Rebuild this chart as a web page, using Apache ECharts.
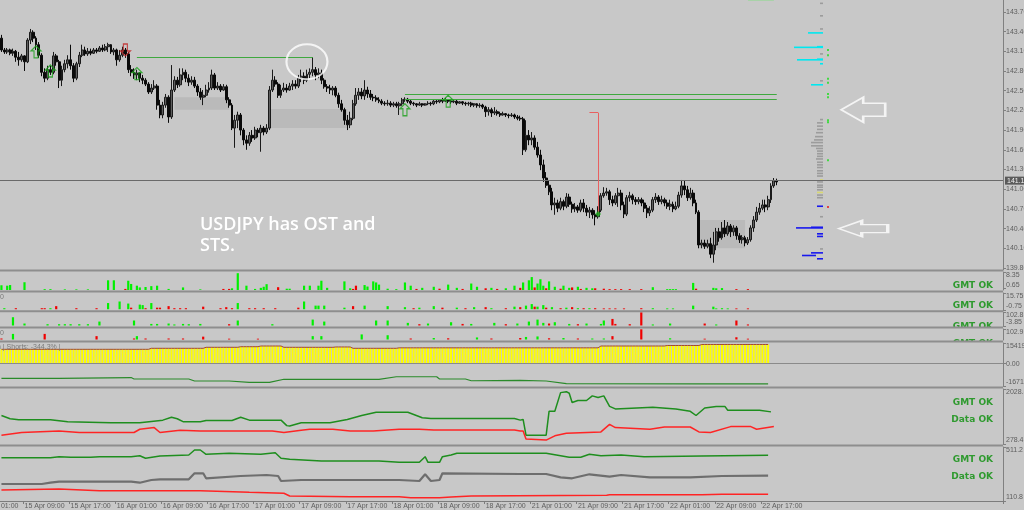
<!DOCTYPE html>
<html><head><meta charset="utf-8">
<script src="https://cdn.jsdelivr.net/npm/echarts@6/dist/echarts.min.js"></script>
<style>html,body{margin:0;padding:0;background:#c8c8c8;}#c{width:1024px;height:510px;}</style>
</head><body><div id="c"></div>
<script>
// ---------------- DATA ----------------
const TIME_LABELS = ['15 Apr 01:00','15 Apr 09:00','15 Apr 17:00','16 Apr 01:00','16 Apr 09:00','16 Apr 17:00','17 Apr 01:00','17 Apr 09:00','17 Apr 17:00','18 Apr 01:00','18 Apr 09:00','18 Apr 17:00','21 Apr 01:00','21 Apr 09:00','21 Apr 17:00','22 Apr 01:00','22 Apr 09:00','22 Apr 17:00'];
const PRICE_TICKS = [139.8,140.1,140.4,140.7,141.0,141.3,141.6,141.9,142.2,142.5,142.8,143.1,143.4,143.7];
// [open, close, low, high]
const CANDLES = [
[143.30,143.12,143.09,143.35],[143.12,143.09,143.06,143.15],[143.09,143.12,143.06,143.15],[143.12,143.07,143.04,143.14],[143.07,143.10,143.03,143.14],
[143.10,143.01,142.94,143.12],[143.01,142.97,142.88,143.09],[142.97,143.03,142.94,143.06],[143.03,142.94,142.80,143.04],[142.94,143.27,142.92,143.30],
[143.27,143.39,143.21,143.44],[143.39,143.30,143.24,143.42],[143.30,143.20,143.12,143.33],[143.20,143.04,143.00,143.24],[143.04,142.78,142.72,143.07],
[142.78,142.69,142.63,142.84],[142.69,142.82,142.66,142.88],[142.82,142.78,142.74,142.88],[142.78,143.03,142.75,143.09],[143.03,142.94,142.88,143.06],
[142.94,142.66,142.54,142.97],[142.66,142.82,142.57,142.88],[142.82,142.91,142.78,142.97],[142.91,142.97,142.84,143.04],[142.97,142.88,142.82,143.20],
[142.88,142.69,142.63,142.92],[142.69,142.91,142.66,142.94],[142.91,143.04,142.86,143.09],[143.04,143.12,143.01,143.20],[143.12,143.06,143.03,143.17],
[143.06,143.10,143.03,143.15],[143.10,143.07,143.04,143.14],[143.07,143.12,143.06,143.15],[143.12,143.10,143.07,143.15],[143.10,143.15,143.09,143.18],
[143.15,143.12,143.09,143.20],[143.12,143.17,143.10,143.21],[143.17,143.20,143.09,143.23],[143.20,143.09,143.06,143.21],[143.09,143.12,143.04,143.15],
[143.12,142.97,142.88,143.14],[142.97,143.04,142.94,143.12],[143.04,143.12,143.01,143.17],[143.12,143.06,143.00,143.15],[143.06,142.82,142.77,143.09],
[142.82,142.78,142.72,142.89],[142.78,142.74,142.68,142.84],[142.74,142.77,142.66,142.82],[142.77,142.69,142.63,142.78],[142.69,142.66,142.60,142.74],
[142.66,142.60,142.57,142.69],[142.60,142.48,142.45,142.63],[142.48,142.54,142.45,142.60],[142.54,142.57,142.51,142.66],[142.57,142.28,142.21,142.60],
[142.28,142.13,142.08,142.36],[142.13,142.28,142.08,142.33],[142.28,142.40,142.24,142.45],[142.40,142.10,142.01,142.43],[142.10,142.51,142.07,142.89],
[142.51,142.66,142.48,142.72],[142.66,142.59,142.54,142.71],[142.59,142.74,142.56,142.84],[142.74,142.78,142.66,142.84],[142.78,142.69,142.63,142.82],
[142.69,142.63,142.57,142.75],[142.63,142.66,142.59,142.72],[142.66,142.57,142.54,142.71],[142.57,142.48,142.42,142.60],[142.48,142.40,142.36,142.54],
[142.40,142.43,142.28,142.51],[142.43,142.51,142.40,142.59],[142.51,142.54,142.47,142.63],[142.54,142.74,142.51,142.82],[142.74,142.54,142.51,142.77],
[142.54,142.57,142.51,142.63],[142.57,142.51,142.48,142.60],[142.51,142.56,142.50,142.60],[142.56,142.36,142.31,142.59],[142.36,142.28,142.24,142.40],
[142.28,141.93,141.90,142.31],[141.93,142.05,141.63,142.13],[142.05,142.13,141.93,142.18],[142.13,141.90,141.82,142.16],[141.90,141.75,141.67,141.93],
[141.75,141.70,141.60,141.82],[141.70,141.82,141.66,141.87],[141.82,141.78,141.72,141.90],[141.78,141.90,141.75,141.95],[141.90,141.86,141.79,141.93],
[141.86,141.93,141.57,141.98],[141.93,141.87,141.82,141.96],[141.87,141.93,141.84,141.99],[141.93,142.51,141.90,142.57],[142.51,142.66,142.48,142.82],
[142.66,142.60,142.56,142.72],[142.60,142.43,142.39,142.63],[142.43,142.51,142.39,142.59],[142.51,142.54,142.48,142.62],[142.54,142.51,142.47,142.60],
[142.51,142.57,142.50,142.62],[142.57,142.60,142.51,142.66],[142.60,142.57,142.53,142.66],[142.57,142.69,142.54,142.74],[142.69,142.72,142.63,142.82],
[142.72,142.66,142.60,142.78],[142.66,142.75,142.63,142.82],[142.75,142.78,142.69,142.84],[142.78,142.82,142.72,143.01],[142.82,142.74,142.66,142.86],
[142.74,142.77,142.69,142.84],[142.77,142.66,142.60,142.82],[142.66,142.56,142.53,142.69],[142.56,142.54,142.48,142.60],[142.54,142.51,142.45,142.59],
[142.51,142.54,142.43,142.57],[142.54,142.43,142.40,142.57],[142.43,142.30,142.24,142.47],[142.30,142.21,142.18,142.36],[142.21,142.05,141.98,142.24],
[142.05,141.98,141.90,142.13],[141.98,142.08,141.93,142.18],[142.08,142.30,142.05,142.36],[142.30,142.43,142.27,142.54],[142.43,142.48,142.36,142.54],
[142.48,142.42,142.37,142.54],[142.42,142.51,142.36,142.66],[142.51,142.45,142.39,142.56],[142.45,142.40,142.36,142.51],[142.40,142.39,142.34,142.45],
[142.39,142.36,142.33,142.43],[142.36,142.34,142.31,142.40],[142.34,142.31,142.28,142.37],[142.31,142.30,142.27,142.34],[142.30,142.31,142.27,142.36],
[142.31,142.28,142.25,142.34],[142.28,142.30,142.25,142.33],[142.30,142.27,142.24,142.33],[142.27,142.30,142.13,142.33],[142.30,142.36,142.27,142.39],
[142.36,142.37,142.33,142.40],[142.37,142.34,142.31,142.39],[142.34,142.31,142.28,142.36],[142.31,142.30,142.27,142.33],[142.30,142.28,142.25,142.31],
[142.28,142.30,142.27,142.33],[142.30,142.28,142.25,142.31],[142.28,142.30,142.27,142.31],[142.30,142.31,142.28,142.34],[142.31,142.30,142.27,142.33],
[142.30,142.34,142.28,142.36],[142.34,142.33,142.30,142.36],[142.33,142.36,142.31,142.37],[142.36,142.34,142.31,142.39],[142.34,142.36,142.33,142.39],
[142.36,142.34,142.31,142.37],[142.34,142.33,142.30,142.36],[142.33,142.34,142.31,142.36],[142.34,142.31,142.28,142.36],[142.31,142.33,142.30,142.34],
[142.33,142.31,142.28,142.34],[142.31,142.30,142.27,142.33],[142.30,142.31,142.27,142.33],[142.31,142.28,142.25,142.33],[142.28,142.30,142.25,142.31],
[142.30,142.27,142.24,142.31],[142.27,142.28,142.24,142.31],[142.28,142.25,142.22,142.30],[142.25,142.18,142.10,142.27],[142.18,142.21,142.12,142.25],
[142.21,142.16,142.10,142.24],[142.16,142.18,142.13,142.25],[142.18,142.15,142.12,142.21],[142.15,142.13,142.10,142.18],[142.13,142.15,142.12,142.18],
[142.15,142.13,142.10,142.16],[142.13,142.12,142.08,142.15],[142.12,142.13,142.10,142.16],[142.13,142.10,142.07,142.15],[142.10,142.08,142.05,142.13],
[142.08,142.07,142.04,142.12],[142.07,141.60,141.52,142.10],[141.60,141.82,141.57,142.05],[141.82,141.75,141.67,141.90],[141.75,141.78,141.67,141.87],
[141.78,141.64,141.60,141.82],[141.64,141.52,141.48,141.72],[141.52,141.37,141.29,141.60],[141.37,141.17,141.11,141.45],[141.17,141.06,141.02,141.26],
[141.06,140.96,140.91,141.14],[140.96,140.76,140.68,141.02],[140.76,140.79,140.61,140.87],[140.79,140.71,140.65,140.84],[140.71,140.81,140.68,140.87],
[140.81,140.74,140.68,140.84],[140.74,140.88,140.71,140.94],[140.88,140.77,140.73,140.93],[140.77,140.70,140.64,140.81],[140.70,140.73,140.65,140.79],
[140.73,140.68,140.64,140.76],[140.68,140.79,140.65,140.84],[140.79,140.71,140.65,140.85],[140.71,140.65,140.59,140.76],[140.65,140.68,140.56,140.73],
[140.68,140.61,140.55,140.71],[140.61,140.58,140.45,140.68],[140.58,140.68,140.55,140.74],[140.68,140.90,140.65,140.94],[140.90,140.94,140.87,141.03],
[140.94,140.96,140.90,141.02],[140.96,140.84,140.76,140.99],[140.84,140.79,140.74,140.90],[140.79,140.90,140.76,140.94],[140.90,140.94,140.73,141.02],
[140.94,140.76,140.68,140.99],[140.76,140.62,140.56,140.81],[140.62,140.87,140.59,140.91],[140.87,140.90,140.81,140.96],[140.90,140.84,140.77,140.93],
[140.84,140.81,140.76,140.88],[140.81,140.84,140.77,140.88],[140.84,140.79,140.74,140.87],[140.79,140.71,140.65,140.84],[140.71,140.64,140.56,140.76],
[140.64,140.68,140.59,140.74],[140.68,140.84,140.65,140.88],[140.84,140.88,140.79,140.94],[140.88,140.81,140.76,140.91],[140.81,140.84,140.77,140.90],
[140.84,140.79,140.74,140.87],[140.79,140.74,140.70,140.84],[140.74,140.77,140.68,140.84],[140.77,140.70,140.65,140.81],[140.70,140.74,140.68,140.81],
[140.74,140.91,140.71,140.96],[140.91,141.05,140.87,141.14],[141.05,140.99,140.91,141.13],[140.99,140.87,140.82,141.05],[140.87,140.94,140.84,141.02],
[140.94,140.79,140.74,140.99],[140.79,140.65,140.62,140.84],[140.65,140.15,140.10,140.68],[140.15,140.18,140.10,140.23],[140.18,140.13,140.09,140.23],
[140.13,140.17,140.10,140.23],[140.17,140.01,139.95,140.26],[140.01,140.15,139.88,140.35],[140.15,140.35,140.07,140.41],[140.35,140.26,140.20,140.41],
[140.26,140.41,140.23,140.50],[140.41,140.32,140.27,140.53],[140.32,140.44,140.29,140.50],[140.44,140.35,140.27,140.47],[140.35,140.41,140.29,140.45],
[140.41,140.29,140.23,140.44],[140.29,140.23,140.18,140.33],[140.23,140.26,140.17,140.30],[140.26,140.18,140.13,140.29],[140.18,140.23,140.15,140.27],
[140.23,140.41,140.20,140.45],[140.41,140.53,140.35,140.59],[140.53,140.65,140.50,140.73],[140.65,140.71,140.61,140.79],[140.71,140.76,140.68,140.84],
[140.76,140.73,140.65,140.84],[140.73,140.84,140.68,140.90],[140.84,141.05,140.79,141.09],[141.05,141.13,141.02,141.17],[141.13,141.11,141.06,141.16]
];
const CURRENT_PRICE = 141.13;
// [barIndex, value]
const SUB1_GREEN = [[0,2.2],[2,2.0],[3,2.3],[8,3.6],[15,0.4],[17,0.4],[22,0.3],[26,0.3],[30,0.3],[37,4.5],[39,4.5],[44,4.3],[45,2.8],[47,2.0],[48,1.2],[50,1.4],[52,1.8],[54,2.0],[58,0.5],[63,1.2],[69,0.3],[80,0.8],[82,7.8],[85,2.0],[88,0.5],[90,1.0],[91,1.5],[92,2.7],[99,0.6],[100,0.6],[105,2.0],[107,2.0],[110,2.0],[111,4.3],[113,1.0],[119,4.0],[121,0.8],[126,2.3],[127,1.6],[129,4.0],[130,3.5],[131,2.5],[134,0.6],[137,0.4],[140,3.5],[142,2.0],[146,1.0],[150,1.5],[155,2.5],[158,1.0],[163,3.0],[165,1.5],[170,1.0],[175,0.8],[178,2.0],[181,3.5],[183,4.5],[184,6.0],[186,3.0],[187,5.0],[188,2.0],[190,4.0],[192,1.5],[195,2.0],[197,1.0],[200,1.5],[203,1.0],[205,0.8],[226,1.3],[231,0.4],[232,0.4],[233,0.4],[234,0.4],[240,3.3],[247,1.0],[248,0.8],[250,0.9]];
const SUB1_RED = [[43,0.5],[77,0.5],[79,0.5],[96,1.3],[122,0.5],[123,2.0],[144,0.5],[152,0.6],[160,0.5],[168,0.8],[172,0.5],[180,1.0],[185,1.2],[189,0.8],[194,0.6],[198,1.2],[201,0.5],[206,0.8],[209,0.6],[211,0.4],[213,0.4],[215,0.4],[218,0.4],[222,0.4],[241,0.6],[255,0.4],[259,0.4]];
const SUB2_GREEN = [[1,1.0],[17,1.0],[37,6.0],[41,7.5],[44,5.5],[48,4.5],[49,4.0],[52,6.0],[82,6.0],[105,7.5],[109,3.5],[110,3.5],[112,3.5],[119,1.5],[126,3.5],[134,3.0],[140,2.0],[145,1.5],[150,3.0],[158,1.5],[164,2.0],[170,1.0],[178,2.5],[182,3.5],[184,5.0],[186,2.5],[188,4.0],[191,2.0],[196,1.5],[200,1.0],[204,1.0],[226,1.0],[231,0.8],[233,0.8],[240,3.5],[247,2.5],[248,0.8],[250,1.0],[252,0.8]];
const SUB2_RED = [[5,1.0],[14,1.0],[15,1.0],[19,3.0],[26,1.0],[33,1.0],[45,1.5],[50,1.0],[54,1.5],[55,1.5],[58,3.0],[60,1.0],[62,1.0],[64,1.0],[70,2.5],[76,1.0],[78,2.0],[80,1.0],[86,1.0],[88,1.0],[91,1.0],[95,1.0],[103,1.5],[122,3.0],[143,1.0],[153,1.5],[161,1.0],[168,2.0],[175,1.0],[180,2.0],[185,2.5],[189,1.5],[194,1.0],[198,2.0],[202,1.0],[206,1.0],[209,0.8],[211,0.8],[213,0.8],[216,0.8],[222,1.0],[255,0.8],[259,0.8]];
const SUB3_GREEN = [[4,63],[8,15],[16,10],[20,10],[22,10],[24,10],[27,10],[30,10],[34,30],[46,38],[52,12],[54,12],[58,15],[60,8],[63,12],[65,10],[69,12],[82,38],[94,10],[108,45],[112,30],[130,38],[134,38],[141,20],[148,15],[156,25],[163,12],[171,20],[179,15],[183,30],[186,45],[188,20],[192,25],[197,12],[203,15],[208,12],[209,38],[226,8],[232,15],[248,8]];
const SUB3_RED = [[79,10],[145,10],[160,12],[175,10],[190,15],[200,10],[212,50],[213,12],[218,10],[222,100],[244,15],[255,38],[259,8]];
const SUB4_GREEN = [[4,55],[47,33],[108,33],[111,33],[125,50],[134,42],[150,15],[165,20],[182,25],[186,30],[195,15],[205,10],[209,10],[232,12]];
const SUB4_RED = [[0,10],[15,55],[33,33],[46,10],[50,10],[58,10],[63,10],[70,28],[79,8],[89,8],[142,10],[155,12],[170,10],[180,15],[190,12],[200,10],[212,33],[222,100],[244,8],[255,22],[259,8]];
// [fromBar, toBar, value] constant runs of the yellow histogram
const YELLOW_RUNS = [[0,51,107000],[52,70,114500],[71,82,122000],[83,89,126500],[90,97,131700],[98,115,122000],[116,121,124500],[122,137,114500],[138,207,118000],[208,230,131700],[231,242,135500],[243,266,143000]];
const SUB5_LINE = [[0,-110000],[20,-110000],[45,-104000],[46,-115000],[65,-115000],[67,-130000],[79,-130000],[86,-140000],[93,-140000],[98,-117000],[131,-117000],[137,-98000],[151,-98000],[152,-115000],[161,-115000],[163,-128000],[180,-125000],[189,-130000],[196,-149000],[243,-152000],[266,-152000]];
const SUB6_GREEN = [[0,1184.8],[3,1081.6],[6,1050.4],[17,1050.4],[23,987.9],[38,956.6],[48,956.6],[52,997.3],[56,1037.9],[59,1131.6],[61,1081.6],[63,987.9],[69,987.9],[71,1028.5],[80,1028.5],[83,1131.6],[86,1037.9],[97,1037.9],[99,862.9],[100,850.4],[104,956.6],[114,956.6],[120,1059.8],[125,1184.8],[130,1287.9],[141,1287.9],[146,1112.9],[149,1091],[178,1091],[180,1037.9],[181,1059.8],[182,559.8],[189,559.8],[190,1319.1],[192,1319.1],[194,1912.9],[196,1944.1],[197,1894.1],[198,1600.4],[200,1662.9],[203,1662.9],[205,1809.8],[207,1756.6],[209,1809.8],[211,1475.4],[213,1394.1],[226,1444.1],[234,1394.1],[239,1319.1],[241,1184.8],[244,1425.4],[248,1475.4],[251,1475.4],[252,1350.4],[263,1350.4],[267,1300.4]];
const SUB6_RED = [[0,559.8],[7,644.1],[20,694.1],[27,644.1],[46,644.1],[48,747.3],[53,800.4],[55,644.1],[62,716],[69,694.1],[94,694.1],[98,644.1],[104,716],[107,747.3],[115,747.3],[121,694.1],[129,694.1],[138,747.3],[145,747.3],[150,725.4],[178,725.4],[180,694.1],[181,694.1],[182,434.8],[189,403.5],[192,537.9],[196,622.3],[208,662.9],[211,903.5],[213,800.4],[225,747.3],[230,819.1],[239,819.1],[242,662.9],[246,644.1],[253,831.6],[260,831.6],[262,747.3],[268,831.6]];
const SUB7_GREEN = [[0,431.9],[17,431.9],[20,439.3],[24,434.8],[31,434.8],[34,439.3],[45,439.3],[48,446.7],[50,427.4],[55,444.5],[65,451.9],[67,489.0],[69,489.0],[71,457.1],[79,464.5],[90,457.1],[95,468.9],[97,427.4],[100,420.0],[111,407.4],[131,407.4],[138,397.8],[145,397.8],[147,439.3],[148,397.8],[152,397.8],[153,439.3],[156,451.9],[158,464.5],[189,464.5],[197,434.8],[201,434.8],[204,457.1],[208,446.7],[215,451.9],[223,439.3],[243,444.5],[266,449.7]];
const SUB7_GRAY = [[0,236.8],[14,236.8],[17,246.5],[20,253.9],[45,253.9],[48,246.5],[52,266.5],[55,271.7],[65,271.7],[67,316.2],[70,316.2],[71,279.1],[83,296.2],[92,303.6],[96,296.2],[97,259.1],[104,266.5],[138,266.5],[145,259.1],[147,308.8],[149,259.1],[152,266.5],[153,316.2],[180,311.0],[189,311.0],[194,286.5],[198,279.1],[204,308.8],[211,291.0],[215,303.6],[225,286.5],[239,286.5],[250,296.2],[266,298.4]];
const SUB7_RED = [[0,192.3],[20,199.8],[34,187.1],[69,187.1],[86,175.3],[98,167.9],[100,147.9],[121,142.7],[138,142.7],[142,135.3],[152,135.3],[156,140.5],[163,147.9],[210,153.1],[211,157.5],[243,157.5],[250,160.5],[266,160.5]];
// volume profile rows: [price, length, offset, colourIndex]
const PROFILE = [
[143.83,3,7,0],[143.64,3,7,0],[143.44,3,7,0],[143.38,15,7,1],[143.17,6,7,1],[143.16,29,7,1],[143.06,3,7,0],
[142.98,6,7,1],[142.97,26,7,1],[142.91,3,7,1],[142.65,3,7,0],[142.59,12,7,1],
[142.06,3,7,0],[142.01,6,7,0],[141.96,6,7,0],[141.91,6,7,0],[141.86,7,7,0],[141.80,8,7,0],[141.75,9,7,0],[141.71,12,7,0],[141.66,12,7,0],[141.62,7,7,0],
[141.58,6,7,0],[141.54,6,7,0],[141.50,6,7,0],[141.46,7,7,0],[141.41,6,7,0],[141.37,6,7,0],[141.33,6,7,0],[141.28,6,7,0],[141.24,6,7,0],[141.20,6,7,0],
[141.14,3,7,3],[141.11,6,7,0],[141.06,6,7,0],[141.03,6,7,0],[140.99,6,7,0],[140.95,6,7,3],[140.91,6,7,0],[140.87,6,7,0],
[140.74,6,7,2],[140.58,3,7,0],[140.42,12,7,2],[140.41,27,7,2],[140.32,6,7,2],[140.28,6,7,2],[140.09,3,7,0],[140.03,12,7,2],[139.99,14,14,2],[139.94,6,7,2]
];
const PROFILE_GREEN_DOTS = [143.12,143.04,142.68,142.62,142.45,142.40,142.05,142.02,141.44];
const PROFILE_RED_DOTS = [140.73];
// chart annotations: [barIndex, price]
const UP_ARROWS = [[12,143.09],[17,142.80],[47,142.76],[140,142.21],[155,142.34]];
const DOWN_ARROWS = [[43,143.12]];
const CROSS_MARKS = [[207,140.62]];
const CIRCLE_MARK = [106,142.94];
const BIG_ARROWS = [[299,142.21],[299,140.40]];
const ZONES = [[60,79,142.40,142.21],[93,120,142.22,141.93],[242,258,140.53,140.10]];
const GREEN_LEVELS = [[47,108,143.01],[140,269,142.44],[140,269,142.37]];
const SIGNAL_LINE = [[204,207,142.165],[207,207,142.165,140.64]];

// ---------------- LAYOUT ----------------
const OFFSET = 8, N_CAT = 356, BW = 1003/348;
const CATS = Array.from({length:N_CAT}, (_, i) => 'b' + i);
const GL = -OFFSET*BW, GW = N_CAT*BW;
const PANELS = [[0,270],[272,18],[293,17],[312,14],[329,11],[343,43],[389,55],[447,54]];
const LABEL_FONT = {fontSize:7, color:'#5e5e5e', fontFamily:'Liberation Sans'};
const sh = a => a.map(p => [p[0] + OFFSET, p[1]]);

const grids = PANELS.map(p => ({left:GL, width:GW, top:p[0], height:p[1], outerBoundsMode:'none', containLabel:false}));
grids.push({left:780, width:50, top:0, height:270, outerBoundsMode:'none', containLabel:false});

const tickFn = i => i % 16 === 0 && i/16 < TIME_LABELS.length;
const xAxes = PANELS.map((p, gi) => {
  const bottom = gi === PANELS.length - 1;
  return {type:'category', gridIndex:gi, data:CATS, boundaryGap:true,
    axisLine:{show:bottom, lineStyle:{color:'#7c7c7c', width:1}},
    axisTick:{show:bottom, interval:tickFn, length:3, lineStyle:{color:'#7c7c7c'}},
    axisLabel:{show:bottom, interval:tickFn, align:'left', margin:2, ...LABEL_FONT,
      formatter:(v, i) => TIME_LABELS[i/16] || ''},
    splitLine:{show:false}};
});
xAxes.push({type:'value', gridIndex:8, min:0, max:50, inverse:true, show:false});

function subY(gi, min, max, ticks, fmt) {
  return {type:'value', gridIndex:gi, position:'right', min, max, scale:true,
    axisLine:{show:true, lineStyle:{color:'#808080'}},
    axisTick:{show:true, length:3, customValues:ticks, lineStyle:{color:'#808080'}},
    axisLabel:{show:true, customValues:ticks, margin:3, ...LABEL_FONT, hideOverlap:false,
      verticalAlignMinLabel:'bottom', verticalAlignMaxLabel:'top',
      formatter: fmt || (v => String(v))},
    splitLine:{show:false}};
}
const yAxes = [
  {type:'value', gridIndex:0, position:'right', min:139.769, max:143.881,
    axisLine:{show:true, lineStyle:{color:'#808080'}},
    axisTick:{show:true, length:3, customValues:PRICE_TICKS, lineStyle:{color:'#808080'}},
    axisLabel:{show:true, customValues:PRICE_TICKS, margin:3, ...LABEL_FONT, formatter:v => v.toFixed(3)},
    splitLine:{show:false}},
  subY(1, 0, 8.35, [0.65, 8.35]),
  subY(2, -0.75, 15.75, [-0.75, 15.75]),
  subY(3, -3.85, 102.8, [-3.85, 102.8]),
  subY(4, -4.9, 102.9, [-4.9, 102.9]),
  subY(5, -167190, 154190, [-167190, 0, 154190], v => v === 0 ? '0.00' : String(v)),
  subY(6, 278.4, 2028.5, [278.4, 2028.5]),
  subY(7, 110.8, 511.2, [110.8, 511.2]),
  {type:'value', gridIndex:8, min:139.769, max:143.881, show:false}
];

const GREEN = '#00f000', RED = '#f00000';
function histo(gi, data, color) {
  return {type:'bar', xAxisIndex:gi, yAxisIndex:gi, data:sh(data), barWidth:2.2, barGap:'-100%',
    itemStyle:{color}, silent:true, animation:false};
}
function line(gi, data, color, width) {
  return {type:'line', xAxisIndex:gi, yAxisIndex:gi, data:sh(data), showSymbol:false, symbol:'none',
    lineStyle:{color, width}, silent:true, animation:false};
}
const yellow = [];
YELLOW_RUNS.forEach(r => { for (let i = r[0]; i <= r[1]; i++) yellow.push([i + OFFSET, r[2]]); });

const UP = 'path://M5,0L10,5L7,5L7,12L3,12L3,5L0,5Z';
const DOWN = 'path://M3,0L7,0L7,7L10,7L5,12L0,7L3,7Z';
const LEFT1 = 'path://M0,12.5L22,0L22,6L44,6L44,19L22,19L22,25Z';
const LEFT2 = 'path://M0,8L23,0L23,4L49,4L49,12L23,12L23,16Z';
const marks = [];
UP_ARROWS.forEach(a => marks.push({value:[a[0]+OFFSET, a[1]], symbol:UP, symbolSize:[10,12], itemStyle:{color:'rgba(0,0,0,0)', borderColor:'#18a018', borderWidth:1.2}}));
DOWN_ARROWS.forEach(a => marks.push({value:[a[0]+OFFSET, a[1]], symbol:DOWN, symbolSize:[10,12], itemStyle:{color:'rgba(0,0,0,0)', borderColor:'#c02020', borderWidth:1.2}}));
CROSS_MARKS.forEach(a => marks.push({value:[a[0]+OFFSET, a[1]], symbol:'diamond', symbolSize:6, itemStyle:{color:'#20b020'}}));
marks.push({value:[CIRCLE_MARK[0]+OFFSET, CIRCLE_MARK[1]], symbol:'circle', symbolSize:[41,35], itemStyle:{color:'rgba(0,0,0,0)', borderColor:'#ffffff', borderWidth:2}});
marks.push({value:[BIG_ARROWS[0][0]+OFFSET, BIG_ARROWS[0][1]], symbol:LEFT1, symbolSize:[44,25], itemStyle:{color:'rgba(0,0,0,0)', borderColor:'#ffffff', borderWidth:2}});
marks.push({value:[BIG_ARROWS[1][0]+OFFSET, BIG_ARROWS[1][1]], symbol:LEFT2, symbolSize:[49,16], itemStyle:{color:'rgba(0,0,0,0)', borderColor:'#ffffff', borderWidth:2}});

const markLines = [
  {yAxis:CURRENT_PRICE, lineStyle:{color:'#6a6a6a', width:1, type:'solid'},
   label:{show:true, position:'end', distance:2, formatter:CURRENT_PRICE.toFixed(3), fontSize:7, fontFamily:'Liberation Sans',
     color:'#f2f2f2', backgroundColor:'#5a5a5a', padding:[1,2,0,2]}}
];
GREEN_LEVELS.forEach(g => markLines.push([{coord:[g[0]+OFFSET, g[2]], lineStyle:{color:'#3fa83f', width:1, type:'solid'}}, {coord:[g[1]+OFFSET, g[2]]}]));
markLines.push([{coord:[259+OFFSET, 143.87], lineStyle:{color:'#a8d2a8', width:1, type:'solid'}}, {coord:[268+OFFSET, 143.87]}]);
markLines.push([{coord:[SIGNAL_LINE[0][0]+OFFSET, SIGNAL_LINE[0][2]], lineStyle:{color:'#e86060', width:1, type:'solid'}}, {coord:[SIGNAL_LINE[0][1]+OFFSET, SIGNAL_LINE[0][2]]}]);
markLines.push([{coord:[SIGNAL_LINE[1][0]+OFFSET, SIGNAL_LINE[1][2]], lineStyle:{color:'#e86060', width:1, type:'solid'}}, {coord:[SIGNAL_LINE[1][1]+OFFSET, SIGNAL_LINE[1][3]]}]);

const PCOL = ['#9c9c9c', '#00e8f0', '#1818ee', '#d8d870'];

const series = [
  {type:'candlestick', xAxisIndex:0, yAxisIndex:0, barWidth:2.4,
   data:CANDLES.map((c, i) => [i + OFFSET, c[0], c[1], c[2], c[3]]),
   encode:{x:0, y:[1,2,3,4]},
   itemStyle:{color:'#5e5e5e', color0:'#0a0a0a', borderColor:'#1a1a1a', borderColor0:'#0a0a0a', borderWidth:1},
   markLine:{symbol:['none','none'], silent:true, animation:false, label:{show:false}, data:markLines},
   markArea:{silent:true, itemStyle:{color:'#bababa'},
     data:ZONES.map(z => [{coord:[z[0]+OFFSET, z[2]]}, {coord:[z[1]+OFFSET, z[3]]}])},
   silent:true, animation:false},
  {type:'scatter', xAxisIndex:0, yAxisIndex:0, data:marks, silent:true, animation:false, z:5},
  {type:'custom', xAxisIndex:8, yAxisIndex:8, data:PROFILE, encode:{x:1, y:0}, silent:true, animation:false,
   renderItem:(params, api) => {
     const p = api.value(0), len = api.value(1), off = api.value(2), ci = api.value(3);
     const a = api.coord([off, p]), b = api.coord([off + len, p]);
     return {type:'rect', shape:{x:b[0], y:a[1] - 0.8, width:a[0] - b[0], height:1.6}, style:{fill:PCOL[ci]}};
   }},
  {type:'scatter', xAxisIndex:8, yAxisIndex:8, symbol:'rect', symbolSize:2, data:PROFILE_GREEN_DOTS.map(p => [2, p]), itemStyle:{color:'#22dd22'}, silent:true, animation:false},
  {type:'scatter', xAxisIndex:8, yAxisIndex:8, symbol:'rect', symbolSize:2, data:PROFILE_RED_DOTS.map(p => [2, p]), itemStyle:{color:'#ee2222'}, silent:true, animation:false},
  histo(1, SUB1_GREEN, GREEN), histo(1, SUB1_RED, RED),
  histo(2, SUB2_GREEN, GREEN), histo(2, SUB2_RED, RED),
  histo(3, SUB3_GREEN, GREEN), histo(3, SUB3_RED, RED),
  histo(4, SUB4_GREEN, GREEN), histo(4, SUB4_RED, RED),
  {type:'bar', xAxisIndex:5, yAxisIndex:5, data:yellow, barWidth:2, itemStyle:{color:'#ffff00'}, silent:true, animation:false,
   markLine:{symbol:['none','none'], silent:true, animation:false, label:{show:false},
     data:[{yAxis:0, lineStyle:{color:'#8a8a8a', width:1, type:'solid'}}]}},
  {type:'line', xAxisIndex:5, yAxisIndex:5, data:yellow, step:'middle', showSymbol:false, symbol:'none', lineStyle:{color:'#a44a2c', width:1}, silent:true, animation:false},
  line(5, SUB5_LINE, '#2a8a2a', 1.2),
  line(6, SUB6_GREEN, '#1e8e1e', 1.5), line(6, SUB6_RED, '#ff2424', 1.5),
  line(7, SUB7_GREEN, '#1e8e1e', 1.5), line(7, SUB7_GRAY, '#6e6e6e', 2.2), line(7, SUB7_RED, '#ff2424', 1.5)
];

const SEPARATORS = [269.5, 290.5, 310.2, 326.5, 340.5, 386.5, 444.5];
const graphic = [];
const okStyle = {fill:'#2f9a2f', fontSize:9, fontWeight:'bold', fontFamily:'DejaVu Sans', align:'right', verticalAlign:'middle'};
[[286,'GMT OK'],[306,'GMT OK'],[326.5,'GMT OK'],[343.5,'GMT OK'],[402.5,'GMT OK'],[419.5,'Data OK'],[460,'GMT OK'],[477,'Data OK']].forEach(t =>
  graphic.push({type:'text', x:993, y:t[0], z:50, style:{text:t[1], ...okStyle}}));
graphic.push({type:'rect', shape:{x:940, y:327, width:62, height:10}, z:51, style:{fill:'#c8c8c8'}});
graphic.push({type:'rect', shape:{x:940, y:342, width:62, height:8}, z:51, style:{fill:'#c8c8c8'}});
SEPARATORS.forEach(y => graphic.push({type:'rect', shape:{x:0, y, width:1003, height:2}, z:60, style:{fill:'#8e8e8e'}}));
graphic.push({type:'text', x:200, y:214, z:70, style:{text:'USDJPY has OST and\nSTS.', fill:'#ffffff', fontSize:18, fontWeight:600, fontFamily:'Open Sans', lineHeight:21}});
graphic.push({type:'text', x:-3, y:347, z:40, style:{text:'h | Shorts: -344.3% |', fill:'#7a7a7a', fontSize:7, fontFamily:'Liberation Sans', verticalAlign:'middle'}});
graphic.push({type:'text', x:0, y:297, z:40, style:{text:'0', fill:'#7a7a7a', fontSize:7, fontFamily:'Liberation Sans', verticalAlign:'middle'}});
graphic.push({type:'text', x:0, y:333, z:40, style:{text:'0', fill:'#7a7a7a', fontSize:7, fontFamily:'Liberation Sans', verticalAlign:'middle'}});

const chart = echarts.init(document.getElementById('c'), null, {renderer:'canvas', width:1024, height:510});
chart.setOption({
  backgroundColor:'#c8c8c8', animation:false,
  textStyle:{fontFamily:'Liberation Sans'},
  grid:grids, xAxis:xAxes, yAxis:yAxes, series, graphic
});
</script></body></html>
